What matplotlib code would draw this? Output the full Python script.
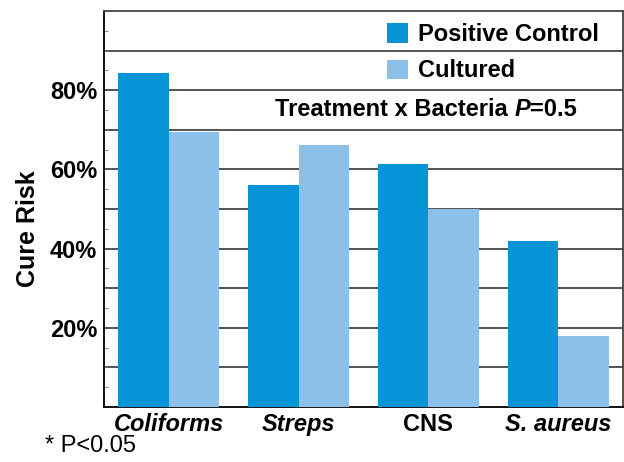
import matplotlib
matplotlib.use("Agg")
import matplotlib.pyplot as plt
import numpy as np

plt.rcParams['font.family'] = ['Liberation Sans', 'DejaVu Sans']

categories = ["Coliforms", "Streps", "CNS", "S. aureus"]
italic_cats = [True, True, False, True]
positive_control = [84.3, 56.2, 61.3, 42.0]
cultured = [69.4, 66.3, 50.0, 18.0]
series_names = ["Positive Control", "Cultured"]
colors = ["#0795d8", "#8dc0e8"]

FS = 17

fig = plt.figure(figsize=(6.24, 4.62), dpi=100)
ax = fig.add_axes([0.1667, 0.119, 0.8317, 0.857])

x = np.arange(len(categories)) + 0.5
w = 0.39
ax.bar(x - w / 2, positive_control, w, color=colors[0], label=series_names[0], zorder=3)
ax.bar(x + w / 2, cultured, w, color=colors[1], label=series_names[1], zorder=3)

ax.set_xlim(0, 4)
ax.set_ylim(0, 100)
ax.set_yticks([20, 40, 60, 80])
ax.set_yticklabels(["20%", "40%", "60%", "80%"], fontsize=FS, fontweight="bold")
ax.set_yticks(np.arange(5, 100, 5), minor=True)
for g in range(10, 100, 10):
    ax.axhline(g, color="#444444", lw=1.3, zorder=1)
ax.tick_params(axis="y", which="major", length=0, pad=5)
ax.tick_params(axis="y", which="minor", length=3, direction="in", color="#777777")

ax.set_xticks(x)
ax.set_xticklabels(categories, fontsize=FS, fontweight="bold")
for lbl, it in zip(ax.get_xticklabels(), italic_cats):
    if it:
        lbl.set_fontstyle("italic")
ax.tick_params(axis="x", length=0, pad=4)

for s in ax.spines.values():
    s.set_linewidth(1.3)
ax.spines["top"].set_color("#444444")
ax.spines["right"].set_color("#444444")

ax.set_ylabel("Cure Risk", fontsize=18, fontweight="bold")
ax.yaxis.set_label_coords(-0.123, 0.45)

leg = ax.legend(loc="upper left", bbox_to_anchor=(0.545, 0.97), frameon=False,
                prop={"weight": "bold", "size": FS},
                handlelength=0.89, handleheight=0.89, handletextpad=0.42,
                labelspacing=0.57, borderpad=0, borderaxespad=0)

# "Treatment x Bacteria P=0.5" with bold-italic P, built from pieces
t1 = ax.text(0.33, 75.2, "Treatment x Bacteria ", transform=ax.get_yaxis_transform(),
             ha="left", va="center", fontsize=FS, fontweight="bold", zorder=4)
t2 = ax.annotate("P", xy=(1, 0), xycoords=t1, ha="left", va="bottom",
                 fontsize=FS, fontweight="bold", fontstyle="italic", zorder=4)
t3 = ax.annotate("=0.5", xy=(1, 0), xycoords=t2, ha="left", va="bottom",
                 fontsize=FS, fontweight="bold", zorder=4)

fig.text(0.072, 0.022, "* P<0.05", fontsize=FS, ha="left", va="baseline")

fig.savefig("out.png", dpi=100)
